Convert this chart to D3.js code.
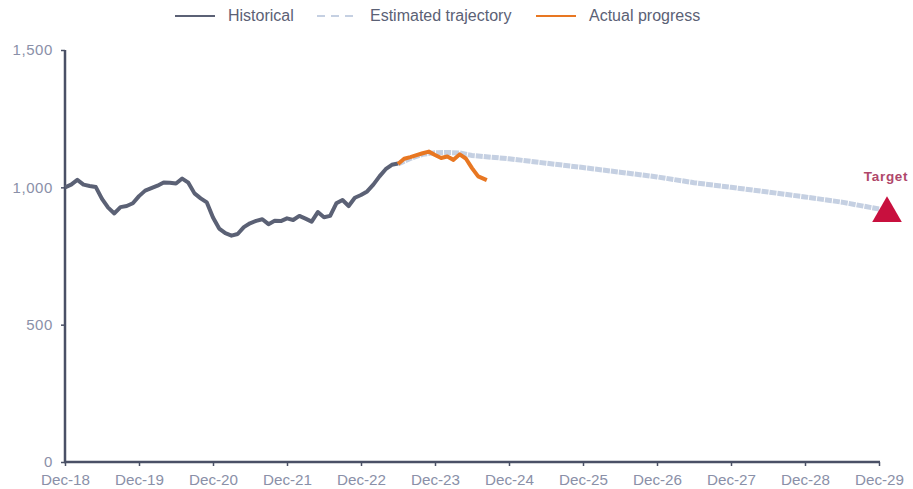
<!DOCTYPE html>
<html>
<head>
<meta charset="utf-8">
<script src="https://cdn.jsdelivr.net/npm/d3@7"></script>
<style>
  body { margin: 0; background: #fff; }
  svg, svg text { font-family: "Liberation Sans", Arial, sans-serif; }
  .tick text { fill: #8a90a8; }
  .legend text { fill: #5b6175; font-size: 16px; }
</style>
</head>
<body>
<svg width="913" height="489"></svg>
<script>
// x is months since Dec-18
var tickLabels = ["Dec-18", "Dec-19", "Dec-20", "Dec-21", "Dec-22", "Dec-23",
                  "Dec-24", "Dec-25", "Dec-26", "Dec-27", "Dec-28", "Dec-29"];
var yTicks = [0, 500, 1000, 1500];

// historical, one value a month from Dec-18 to Jun-23
var historical = [1000, 1010, 1027, 1010, 1005, 1001, 958, 926, 905, 928,
  932, 942, 968, 988, 997, 1006, 1018, 1017, 1014, 1032,
  1017, 978, 960, 945, 890, 850, 833, 824, 830, 855,
  869, 878, 884, 866, 878, 877, 887, 881, 896, 886,
  875, 910, 891, 896, 942, 954, 932, 962, 972, 985,
  1010, 1040, 1066, 1082, 1087];

// actual progress from Jun-23
var actualMonths = [54, 55, 56, 57, 58, 59, 60, 61, 62, 63, 64, 65, 66, 67, 68.4];
var actual = [1085, 1104, 1110, 1117, 1124, 1130, 1118, 1107, 1112, 1100,
  1120, 1105, 1070, 1040, 1026];

// estimated trajectory, read at these months
var trajMonths = [54, 56, 58, 60, 62, 64, 66, 72, 78, 84, 90, 96, 102, 108, 114, 120, 126, 132];
var trajValues = [1085, 1105, 1120, 1126, 1127, 1125, 1116, 1104, 1088, 1072, 1055, 1038, 1017, 1000, 983, 965, 946, 921];

var target = { month: 133.3, value: 905, label: "Target" };

var svg = d3.select("svg");

var x = d3.scaleLinear().domain([0, 132]).range([65, 879]);
var y = d3.scaleLinear().domain([0, 1500]).range([462, 50]);

var line = d3.line()
  .x(function (d) { return x(d[0]); })
  .y(function (d) { return y(d[1]); });

// axes
var yAxis = d3.axisLeft(y).tickValues(yTicks).tickSize(4).tickPadding(8)
  .tickFormat(d3.format(","));
var yg = svg.append("g").attr("transform", "translate(65,0)").call(yAxis);

var xAxis = d3.axisBottom(x)
  .tickValues(d3.range(0, 133, 12))
  .tickSize(4).tickPadding(9)
  .tickFormat(function (d, i) { return tickLabels[i]; });
var xg = svg.append("g").attr("transform", "translate(0,462)").call(xAxis);

[yg, xg].forEach(function (g) {
  g.select(".domain").attr("stroke", "#4a5066").attr("stroke-width", 2.5);
  g.selectAll(".tick line").attr("stroke", "#4a5066").attr("stroke-width", 1.5);
});
xg.select(".domain").attr("d", "M64,0H880");
yg.select(".domain").attr("d", "M0,50V462");
xg.selectAll(".tick text").attr("font-size", 14).attr("font-family", "Liberation Sans, Arial, sans-serif")
  .attr("textLength", 49).attr("lengthAdjust", "spacingAndGlyphs");
yg.selectAll(".tick text").attr("font-size", 15).attr("letter-spacing", 0.6)
  .attr("font-family", "Liberation Sans, Arial, sans-serif");

// lines
svg.append("path")
  .datum(trajMonths.map(function (m, i) { return [m, trajValues[i]]; }))
  .attr("d", line)
  .attr("fill", "none")
  .attr("stroke", "#c5d0e2")
  .attr("stroke-width", 5)
  .attr("stroke-dasharray", "7,1");

svg.append("path")
  .datum(historical.map(function (v, i) { return [i, v]; }))
  .attr("d", line)
  .attr("fill", "none")
  .attr("stroke", "#5b6175")
  .attr("stroke-width", 4)
  .attr("stroke-linejoin", "round");

svg.append("path")
  .datum(actualMonths.map(function (m, i) { return [m, actual[i]]; }))
  .attr("d", line)
  .attr("fill", "none")
  .attr("stroke", "#e87722")
  .attr("stroke-width", 4)
  .attr("stroke-linejoin", "round");

// target
svg.append("path")
  .attr("d", d3.symbol().type(d3.symbolTriangle).size(380)())
  .attr("transform", "translate(" + x(target.month) + "," + y(target.value) + ")")
  .attr("fill", "#c8103e");

svg.append("text")
  .attr("x", x(target.month) - 1)
  .attr("y", y(target.value) - 32)
  .attr("text-anchor", "middle")
  .attr("font-family", "Liberation Sans, Arial, sans-serif")
  .attr("font-size", 13.5)
  .attr("font-weight", "bold")
  .attr("letter-spacing", 0.7)
  .attr("fill", "#b0476b")
  .text(target.label);

// legend
var legendItems = [
  { name: "Historical", color: "#5b6175", dash: null, x: 175 },
  { name: "Estimated trajectory", color: "#c5d0e2", dash: "8,6", x: 317 },
  { name: "Actual progress", color: "#e87722", dash: null, x: 536 }
];
var lg = svg.append("g").attr("class", "legend");
legendItems.forEach(function (d) {
  lg.append("line")
    .attr("x1", d.x).attr("x2", d.x + 40)
    .attr("y1", 16).attr("y2", 16)
    .attr("stroke", d.color)
    .attr("stroke-width", 2)
    .attr("stroke-dasharray", d.dash);
  lg.append("text")
    .attr("x", d.x + 53)
    .attr("y", 21)
    .text(d.name);
});
</script>
</body>
</html>
